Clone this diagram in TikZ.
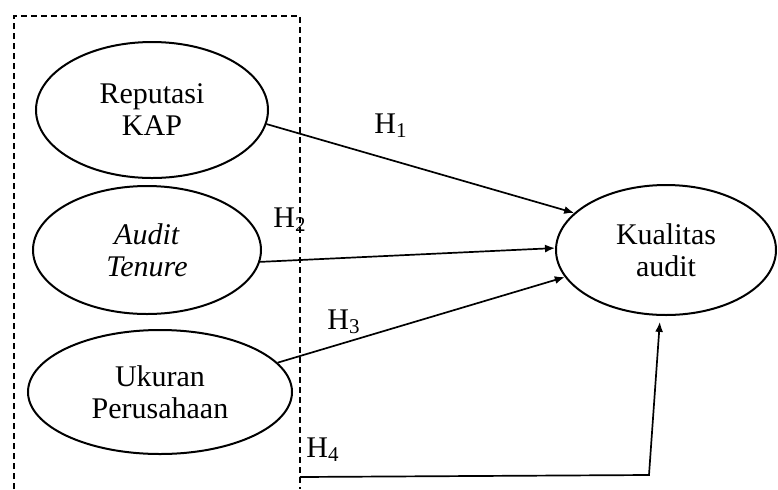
\documentclass[tikz,border=0pt]{standalone}
\usepackage{fontspec}
\setmainfont{Liberation Serif}
\usetikzlibrary{shapes.geometric,arrows.meta}

\begin{document}
\begin{tikzpicture}[x=0.5pt,y=-0.5pt,
		var/.style={draw, ellipse, line width=1pt, inner sep=0pt, align=center, font=\fontsize{15}{16}\selectfont},
		hyp/.style={-{Latex[length=5pt,width=4pt]}, line width=0.85pt},
		lbl/.style={font=\fontsize{15}{16}\selectfont}]
			\useasboundingbox (0,0) rectangle (778,489);
			% kotak variabel independen
			\draw[dashed, dash pattern=on 3pt off 2pt, line width=0.6pt]
			(14,489)--(14,16)--(300,16)--(300,489);
			
			\node (rep)[var, minimum width=116pt, minimum height=68pt] at (152,110) {Reputasi\\KAP};
			\node (tenure)[var, minimum width=114pt, minimum height=64pt] at (147,250) {\textit{Audit}\\\textit{Tenure}};
			\node (ukuran)[var, minimum width=132pt, minimum height=62pt] at (160,392) {Ukuran\\Perusahaan};
			\node (kualitas)[var, minimum width=110pt, minimum height=65pt] at (666,250) {Kualitas\\audit};
			
			\draw[hyp] (rep.-7)--(kualitas.158);
			\draw[hyp] (tenure.-6)--(kualitas.179);
			\draw[hyp] (ukuran.14)--(kualitas.195);
			\coordinate (h4a) at (300,477);
			\coordinate (h4b) at (649,475);
			\draw[hyp, shorten >=3pt] (h4a)--(h4b)--(kualitas.265);
			
			\node (h1)[lbl] at (391,126) {H\textsubscript{1}};
			\node (h2)[lbl] at (290,220) {H\textsubscript{2}};
			\node (h3)[lbl] at (344,322) {H\textsubscript{3}};
			\node (h4)[lbl] at (323,450) {H\textsubscript{4}};
		\end{tikzpicture}
\end{document}
